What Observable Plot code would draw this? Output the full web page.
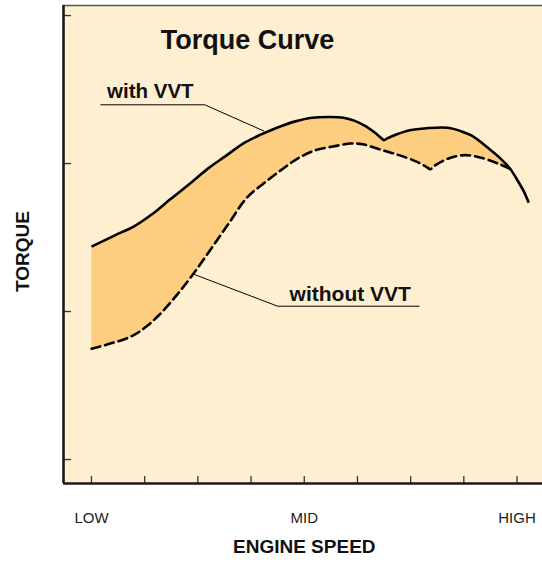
<!DOCTYPE html>
<html><head><meta charset="utf-8">
<script src="https://cdn.jsdelivr.net/npm/d3@7"></script>
<script src="https://cdn.jsdelivr.net/npm/@observablehq/plot@0.6"></script>
<style>
body{margin:0;background:#fff;}
#chart svg{display:block;font-family:"Liberation Sans",Arial,Helvetica,sans-serif;}
</style></head><body><div id="chart"></div>
<script>
// Engine speed in tick units (0 = LOW, 4 = MID, 8 = HIGH); torque in tick units
const speedWith = [0,0.44,0.80,1.15,1.48,1.90,2.20,2.52,2.85,3.18,3.50,3.83,4.15,4.48,4.74,4.94,5.16,5.33,5.44,5.50,5.56,5.72,5.98,6.30,6.70,6.96,7.15,7.48,7.70,7.87,8.03,8.13,8.22];
const torqueWith = [1.439,1.515,1.576,1.661,1.758,1.879,1.969,2.050,2.135,2.195,2.244,2.285,2.310,2.315,2.310,2.290,2.251,2.208,2.175,2.158,2.170,2.195,2.225,2.239,2.242,2.217,2.188,2.098,2.030,1.965,1.874,1.810,1.735];
const speedWithout = [0,0.37,0.76,1.02,1.28,1.61,1.94,2.26,2.59,2.91,3.24,3.57,3.89,4.22,4.54,4.87,5.10,5.46,5.78,6.11,6.30,6.37,6.45,6.70,7.02,7.35,7.65,7.87];
const torqueWithout = [0.749,0.785,0.834,0.895,0.980,1.114,1.267,1.430,1.600,1.765,1.867,1.957,2.037,2.091,2.115,2.135,2.130,2.091,2.057,2.013,1.976,1.962,1.985,2.033,2.057,2.037,1.999,1.965];

const speedTicks = [0,1,2,3,4,5,6,7,8];
const speedLabelValues = [0,4,8];
const speedLabels = ["LOW","MID","HIGH"];
const torqueTicks = [0,1,2,3];

const titleText = "Torque Curve";
const xTitle = "ENGINE SPEED";
const yTitle = "TORQUE";

const withLabel = "with VVT";
const withLabelPos = [0.293, 2.488];
const withLeaderX = [0.176, 2.13, 3.24];
const withLeaderY = [2.397, 2.397, 2.22];
const withoutLabel = "without VVT";
const withoutLabelPos = [3.724, 1.115];
const withoutLeaderX = [6.16, 3.50, 1.904];
const withoutLeaderY = [1.036, 1.036, 1.2545];

// build tables
const withData = speedWith.map((x,i)=>({x, y: torqueWith[i]}));
const withoutData = speedWithout.map((x,i)=>({x, y: torqueWithout[i]}));
const junction = speedWithout[speedWithout.length-1];
const gapPoly = withData.filter(d=>d.x<=junction).concat(withoutData.slice().reverse());
const withLeader = withLeaderX.map((x,i)=>({x, y: withLeaderY[i]}));
const withoutLeader = withoutLeaderX.map((x,i)=>({x, y: withoutLeaderY[i]}));

const xDomain = [-0.526, 8.479];
const yDomain = [-0.162, 3.068];
const tickLenX = 8/53.19, tickLenY = 7/148;

const cream = "#FFEFD1";
const gold = "#FDCE80";

const plot = Plot.plot({
  width: 542, height: 562,
  marginLeft: 63, marginRight: 0, marginTop: 5, marginBottom: 79,
  x: {domain: xDomain, axis: null},
  y: {domain: yDomain, axis: null},
  marks: [
    Plot.frame({fill: cream, stroke: "none"}),
    Plot.line(gapPoly, {x: "x", y: "y", fill: gold, stroke: "none", curve: "catmull-rom"}),
    Plot.ruleY([yDomain[1]], {stroke: "#555", strokeWidth: 1.5}),
    Plot.ruleY(torqueTicks, {y: d=>d, x1: xDomain[0], x2: xDomain[0]+tickLenX, stroke: "#333", strokeWidth: 1.3}),
    Plot.ruleX(speedTicks, {x: d=>d, y1: yDomain[0], y2: yDomain[0]+tickLenY, stroke: "#333", strokeWidth: 1.3}),
    Plot.ruleX([xDomain[0]], {stroke: "#1a1a1a", strokeWidth: 2.6}),
    Plot.ruleY([yDomain[0]], {stroke: "#1a1a1a", strokeWidth: 2.6}),
    Plot.line(withoutData, {x: "x", y: "y", stroke: "#000", strokeWidth: 2.6, strokeDasharray: "9,5", curve: "catmull-rom"}),
    Plot.line(withData, {x: "x", y: "y", stroke: "#000", strokeWidth: 2.6, curve: "catmull-rom", strokeLinecap: "butt"}),
    Plot.line(withLeader, {x: "x", y: "y", stroke: "#000", strokeWidth: 1}),
    Plot.line(withoutLeader, {x: "x", y: "y", stroke: "#000", strokeWidth: 1}),
    Plot.text([withLabel], {x: withLabelPos[0], y: withLabelPos[1], text: d=>d, textAnchor: "start", fontSize: 20.5, fontWeight: "bold", fill: "#111"}),
    Plot.text([withoutLabel], {x: withoutLabelPos[0], y: withoutLabelPos[1], text: d=>d, textAnchor: "start", fontSize: 21, fontWeight: "bold", fill: "#111"}),
    Plot.text([titleText], {x: 2.933, y: 2.832, text: d=>d, fontSize: 27, fontWeight: "bold", fill: "#111"}),
    Plot.text(speedLabelValues, {x: d=>d, frameAnchor: "bottom", dy: 39, text: (d,i)=>speedLabels[i], fontSize: 15, fill: "#222"}),
    Plot.text([xTitle], {x: 4, frameAnchor: "bottom", dy: 69.5, text: d=>d, fontSize: 19, fontWeight: "bold", fill: "#111"}),
    Plot.text([yTitle], {frameAnchor: "left", textAnchor: "middle", dx: -40.5, dy: 7, rotate: -90, text: d=>d, fontSize: 19, fontWeight: "bold", fill: "#111"})
  ]
});
document.getElementById("chart").appendChild(plot);
</script></body></html>
